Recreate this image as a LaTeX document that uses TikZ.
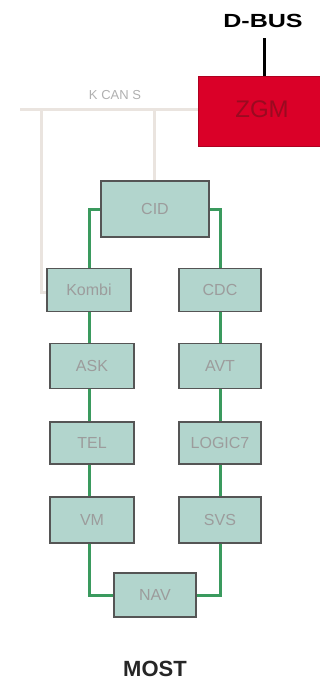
\documentclass[tikz,border=0pt]{standalone}
\usepackage{fontspec}
\setmainfont{Liberation Sans}
\definecolor{boxfill}{HTML}{B2D5CD}
\definecolor{boxline}{HTML}{555555}
\definecolor{labelgray}{HTML}{9C9C9C}
\definecolor{mostgreen}{HTML}{3A9A5E}
\definecolor{kcan}{HTML}{EAE4DF}
\definecolor{zgmred}{HTML}{DA0028}
\definecolor{zgmtext}{HTML}{9A0A20}
\begin{document}
\begin{tikzpicture}[x=1pt,y=-1pt,
  ecu/.style={draw=boxline,line width=1.3pt,fill=boxfill,inner sep=0pt,
    text=labelgray,font=\fontsize{16}{16}\selectfont},
  most/.style={draw=mostgreen,line width=3pt},
  kbus/.style={draw=kcan,line width=3pt}]
\useasboundingbox (0,0) rectangle (320,681);
% K-CAN S bus
\coordinate (kl) at (20,109);
\coordinate (kx1) at (41,109);
\coordinate (kx2) at (154,109);
\node[font=\fontsize{13}{13}\selectfont,text=labelgray!80] (kcanlbl) at (115,95) {K CAN S};
% ZGM
\node[draw=zgmred!80!black,line width=1pt,fill=zgmred,minimum width=124pt,minimum height=70pt,inner sep=0pt,
  anchor=north west] (zgm) at (198,76) {};
\node[text=zgmtext,font=\fontsize{24}{24}\selectfont] (zgmlbl) at (262,109) {ZGM};
\node[font=\bfseries\fontsize{19}{19}\selectfont] (dbus) at (263,21) {\scalebox{1.32}[1]{D-BUS}};
\coordinate (dbusend) at (264,38);
\draw[line width=3pt] (dbusend) -- (dbusend |- zgm.north);
% ECUs
\node[ecu,minimum width=108pt,minimum height=56pt] (cid) at (155,209) {CID};
\node[ecu,minimum width=84pt,minimum height=43pt] (kombi) at (89,290) {Kombi};
\node[ecu,minimum width=82pt,minimum height=43pt] (cdc) at (220,290) {CDC};
\node[ecu,minimum width=84pt,minimum height=45pt] (ask) at (92,366) {ASK};
\node[ecu,minimum width=82pt,minimum height=45pt] (avt) at (220,366) {AVT};
\node[ecu,minimum width=84pt,minimum height=42pt] (tel) at (92,443) {TEL};
\node[ecu,minimum width=82pt,minimum height=42pt] (logic) at (220,443) {LOGIC7};
\node[ecu,minimum width=84pt,minimum height=46pt] (vm) at (92,520) {VM};
\node[ecu,minimum width=82pt,minimum height=46pt] (svs) at (220,520) {SVS};
\node[ecu,minimum width=82pt,minimum height=44pt] (nav) at (155,595) {NAV};
% K-CAN lines
\draw[kbus] (kl) -- (zgm.west |- kl);
\draw[kbus] (kx1) |- ([yshift=-2pt]kombi.west);
\draw[kbus] (kx2) -- (kx2 |- cid.north);
% MOST ring
\draw[most] (cid.west) -| (kombi.north);
\draw[most] (cid.east) -| (cdc.north);
\draw[most] (kombi.south) -- (kombi.south |- ask.north);
\draw[most] (kombi.south |- ask.south) -- (kombi.south |- tel.north);
\draw[most] (kombi.south |- tel.south) -- (kombi.south |- vm.north);
\draw[most] (kombi.south |- vm.south) |- (nav.west);
\draw[most] (cdc.south) -- (avt.north);
\draw[most] (avt.south) -- (logic.north);
\draw[most] (logic.south) -- (svs.north);
\draw[most] (svs.south) |- (nav.east);
\node[font=\bfseries\fontsize{22}{22}\selectfont,text=black!85] (mostlbl) at (155,669) {MOST};
\end{tikzpicture}
\end{document}
